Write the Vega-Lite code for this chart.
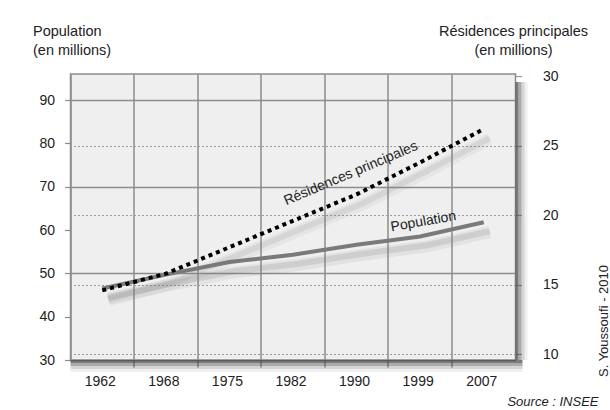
{
  "$schema": "https://vega.github.io/schema/vega-lite/v6.json",
  "width": 445,
  "height": 286,
  "autosize": {"type": "none"},
  "padding": {"left": 70.5, "top": 74, "right": 94.5, "bottom": 50},
  "background": "white",
  "config": {
    "font": "Liberation Sans",
    "view": {"fill": "#efefef", "stroke": "#8c8c8c", "strokeWidth": 1.5},
    "axis": {
      "labelFont": "Liberation Sans",
      "labelFontSize": 14,
      "labelColor": "#222",
      "titleFont": "Liberation Sans",
      "titleFontSize": 14.5,
      "titleFontWeight": "normal",
      "titleColor": "#222",
      "domain": false
    }
  },
  "title": {
    "text": "Source : INSEE",
    "orient": "bottom",
    "anchor": "end",
    "frame": "group",
    "font": "Liberation Sans",
    "fontSize": 13,
    "fontStyle": "italic",
    "fontWeight": "normal",
    "color": "#222",
    "offset": 8,
    "dx": 83
  },
  "data": {
    "values": [
      {"annee": "1962", "population": 46.5, "residences": 14.6},
      {"annee": "1968", "population": 49.7, "residences": 15.8},
      {"annee": "1975", "population": 52.6, "residences": 17.7},
      {"annee": "1982", "population": 54.3, "residences": 19.6},
      {"annee": "1990", "population": 56.6, "residences": 21.5},
      {"annee": "1999", "population": 58.5, "residences": 23.8},
      {"annee": "2007", "population": 61.8, "residences": 26.2}
    ]
  },
  "layer": [
    {
      "layer": [
        {
          "data": {"values": [{}]},
          "mark": {"type": "rule", "color": "#444", "strokeWidth": 3, "opacity": 0.7, "xOffset": 7, "yOffset": 1.5},
          "encoding": {"y": {"datum": 30, "type": "quantitative"}}
        },
        {
          "data": {"values": [{}]},
          "mark": {"type": "rule", "color": "#444", "strokeWidth": 3, "opacity": 0.45, "xOffset": 7, "yOffset": 4.5},
          "encoding": {"y": {"datum": 30, "type": "quantitative"}}
        },
        {
          "data": {"values": [{}]},
          "mark": {"type": "rule", "color": "#444", "strokeWidth": 3, "opacity": 0.22, "xOffset": 7, "yOffset": 7.5},
          "encoding": {"y": {"datum": 30, "type": "quantitative"}}
        },
        {
          "data": {"values": [{}]},
          "mark": {"type": "rule", "color": "#444", "strokeWidth": 3, "opacity": 0.08, "xOffset": 7, "yOffset": 10.5},
          "encoding": {"y": {"datum": 30, "type": "quantitative"}}
        },
        {
          "data": {"values": [{}]},
          "mark": {"type": "rule", "color": "#444", "strokeWidth": 3, "opacity": 0.7, "xOffset": 1.5, "yOffset": 8, "y2Offset": 3},
          "encoding": {"x": {"datum": "2007", "type": "ordinal", "bandPosition": 1}}
        },
        {
          "data": {"values": [{}]},
          "mark": {"type": "rule", "color": "#444", "strokeWidth": 3, "opacity": 0.45, "xOffset": 4.5, "yOffset": 8, "y2Offset": 6},
          "encoding": {"x": {"datum": "2007", "type": "ordinal", "bandPosition": 1}}
        },
        {
          "data": {"values": [{}]},
          "mark": {"type": "rule", "color": "#444", "strokeWidth": 3, "opacity": 0.22, "xOffset": 7.5, "yOffset": 8, "y2Offset": 9},
          "encoding": {"x": {"datum": "2007", "type": "ordinal", "bandPosition": 1}}
        },
        {
          "data": {"values": [{}]},
          "mark": {"type": "rule", "color": "#444", "strokeWidth": 3, "opacity": 0.08, "xOffset": 10.5, "yOffset": 8, "y2Offset": 12},
          "encoding": {"x": {"datum": "2007", "type": "ordinal", "bandPosition": 1}}
        },
        {
          "mark": {"type": "line", "color": "#777", "strokeWidth": 12, "opacity": 0.1, "xOffset": 6, "yOffset": 10},
          "encoding": {
            "x": {"field": "annee", "type": "ordinal", "bandPosition": 0.5},
            "y": {"field": "population", "type": "quantitative"}
          }
        },
        {
          "mark": {"type": "line", "color": "#777", "strokeWidth": 6, "opacity": 0.18, "xOffset": 6, "yOffset": 9},
          "encoding": {
            "x": {"field": "annee", "type": "ordinal", "bandPosition": 0.5},
            "y": {"field": "population", "type": "quantitative"}
          }
        },
        {
          "mark": {"type": "line", "color": "#7a7a7a", "strokeWidth": 4},
          "encoding": {
            "x": {
              "field": "annee",
              "type": "ordinal",
              "bandPosition": 0.5,
              "scale": {"type": "band", "paddingInner": 0, "paddingOuter": 0},
              "axis": {
                "title": "S. Youssoufi - 2010",
                "titleAngle": 270,
                "titleX": 536.5,
                "titleY": -39.5,
                "titleAlign": "center",
                "titleBaseline": "alphabetic",
                "titleFontSize": 13,
                "labelAngle": 0,
                "labelAlign": "center",
                "labelOffset": -2,
                "bandPosition": 0,
                "grid": true,
                "gridColor": "#8c8c8c",
                "gridWidth": 1.5,
                "ticks": true,
                "tickColor": "#8c8c8c",
                "tickWidth": 1.5,
                "tickSize": 7,
                "tickOpacity": {"condition": {"test": "datum.value === '1962'", "value": 0}, "value": 1},
                "labelPadding": 14
              }
            },
            "y": {
              "field": "population",
              "type": "quantitative",
              "scale": {"domain": [30, 96], "nice": false, "zero": false},
              "axis": {
                "orient": "left",
                "title": ["Population", "(en millions)"],
                "titleAngle": 0,
                "titleAlign": "left",
                "titleBaseline": "alphabetic",
                "titleX": -38,
                "titleY": -39,
                "titleLineHeight": 19,
                "values": [30, 40, 50, 60, 70, 80, 90],
                "tickSize": 6,
                "tickColor": "#8c8c8c",
                "tickWidth": 1.2,
                "labelPadding": 10,
                "grid": true,
                "gridColor": "#8c8c8c",
                "gridWidth": 1.5,
                "gridOpacity": {"condition": {"test": "datum.value % 20 === 10", "value": 1}, "value": 0}
              }
            }
          }
        },
        {
          "data": {"values": [{}]},
          "mark": {"type": "text", "text": "Population", "angle": 350, "align": "center", "baseline": "middle", "fontSize": 14, "font": "Liberation Sans", "color": "#222"},
          "encoding": {
            "x": {"datum": "1999", "type": "ordinal", "bandPosition": 0.55},
            "y": {"datum": 61.9, "type": "quantitative"}
          }
        }
      ]
    },
    {
      "layer": [
        {
          "mark": {"type": "line", "color": "#777", "strokeWidth": 12, "opacity": 0.08, "xOffset": 6, "yOffset": 10},
          "encoding": {
            "x": {"field": "annee", "type": "ordinal", "bandPosition": 0.5},
            "y": {"field": "residences", "type": "quantitative"}
          }
        },
        {
          "mark": {"type": "line", "color": "#777", "strokeWidth": 6, "opacity": 0.14, "xOffset": 6, "yOffset": 9},
          "encoding": {
            "x": {"field": "annee", "type": "ordinal", "bandPosition": 0.5},
            "y": {"field": "residences", "type": "quantitative"}
          }
        },
        {
          "mark": {"type": "line", "color": "#000", "strokeWidth": 4, "strokeDash": [4, 4], "strokeCap": "butt"},
          "encoding": {
            "x": {"field": "annee", "type": "ordinal", "bandPosition": 0.5},
            "y": {
              "field": "residences",
              "type": "quantitative",
              "scale": {"domain": [9.59, 30.16], "nice": false, "zero": false},
              "axis": {
                "orient": "right",
                "title": ["Résidences principales", "(en millions)"],
                "titleAngle": 0,
                "titleAlign": "center",
                "titleBaseline": "alphabetic",
                "titleX": -2.5,
                "titleY": -39,
                "titleLineHeight": 19,
                "values": [10, 15, 20, 25, 30],
                "tickSize": 6,
                "tickColor": "#9a9a9a",
                "tickWidth": 1.2,
                "labelPadding": 21,
                "grid": true,
                "gridColor": "#9a9a9a",
                "gridWidth": 1,
                "gridDash": [2, 2],
                "gridOpacity": {"condition": {"test": "datum.value === 30", "value": 0}, "value": 1}
              }
            }
          }
        },
        {
          "data": {"values": [{}]},
          "mark": {"type": "text", "text": "Résidences principales", "angle": 337, "align": "center", "baseline": "middle", "fontSize": 14, "font": "Liberation Sans", "color": "#222"},
          "encoding": {
            "x": {"datum": "1990", "type": "ordinal", "bandPosition": 0.41},
            "y": {"datum": 23.0, "type": "quantitative"}
          }
        }
      ]
    }
  ],
  "resolve": {"scale": {"y": "independent"}}
}
